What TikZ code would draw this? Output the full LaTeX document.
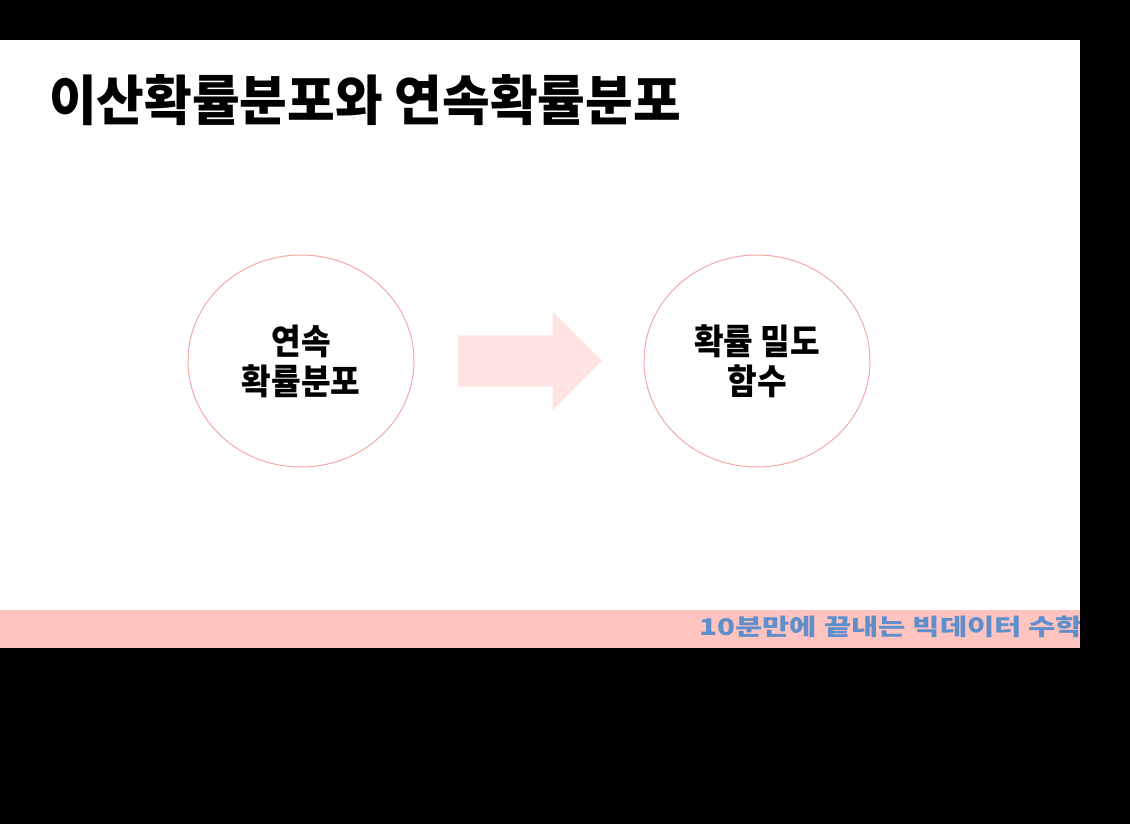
\documentclass[tikz,border=0pt]{standalone}
\usepackage{xcolor}
\usepackage{fontspec}
\newfontfamily\titlefont{Noto Sans CJK KR}[FakeStretch=0.96]
\newfontfamily\ringfont{Noto Sans CJK KR}[FakeStretch=0.92]
\newfontfamily\footfont{Noto Sans CJK KR}[FakeStretch=1.29]
\usepackage{tikz}
\usetikzlibrary{positioning,shapes.geometric,shapes.arrows}
\definecolor{ringpink}{HTML}{F2A9A7}
\definecolor{arrowpink}{HTML}{FFE3E2}
\definecolor{barpink}{HTML}{FFC3C0}
\definecolor{footblue}{HTML}{5F8FCB}
\tikzstyle{ring}=[ellipse, draw=ringpink, line width=1pt, minimum width=226pt, minimum height=212pt,
        align=center, text=black, font=\ringfont\bfseries\fontsize{35}{40}\selectfont]
\tikzstyle{flow}=[single arrow, fill=arrowpink, inner xsep=0pt, inner ysep=25.5pt, minimum height=144pt,
        single arrow head extend=23.5pt]

\begin{document}
\begin{tikzpicture}[x=1pt,y=-1pt]
      % frame of the video
      \fill[black] (0,0) rectangle (1130,824);
      \fill[white] (0,40) rectangle (1080,610);
      \fill[barpink] (0,610) rectangle (1080,648);
      \node (Title) [anchor=west, inner sep=0pt, text=black,
        font=\titlefont\bfseries\fontsize{54}{60}\selectfont] at (49,100)
      {
        이산확률분포와 연속확률분포
      };
      \node (Continuous) [ring] at (301,361)
      {
        연속\\확률분포
      };
      \node (Density) [ring] at (757,361)
      {
        확률 밀도\\함수
      };
      \node (Step) [flow] at (517,361) {};
      \node (Footer) [anchor=west, inner sep=0pt, text=footblue,
        font=\footfont\bfseries\fontsize{23}{26}\selectfont] at (699,627)
      {
        10분만에 끝내는 빅데이터 수학
      };
      \fill[black] (1080,0) rectangle (1130,824);
    \end{tikzpicture}
\end{document}
